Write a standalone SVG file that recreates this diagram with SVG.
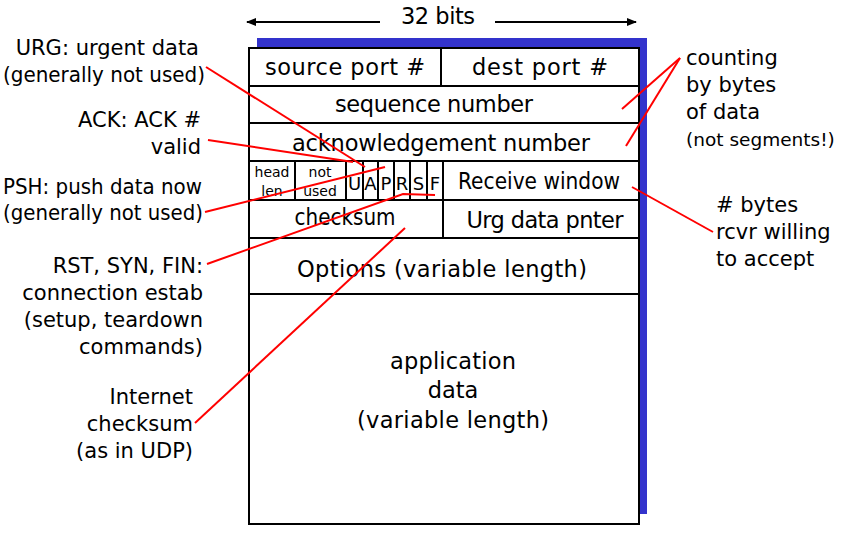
<svg xmlns="http://www.w3.org/2000/svg" width="848" height="533" viewBox="0 0 848 533">
<style>
text{font-family:"DejaVu Sans","Liberation Sans",sans-serif;fill:#000}
.b{font-size:22.5px;text-anchor:middle}
.l{font-size:21px;text-anchor:end}
.r{font-size:21px;text-anchor:start}
.s{font-size:14px;text-anchor:middle}
.f{font-size:18px;text-anchor:middle}
.cell{fill:none;stroke:#000;stroke-width:2}
.red{fill:none;stroke:#ff0000;stroke-width:2}
</style>
<defs>
<marker id="ah" markerWidth="10" markerHeight="8" refX="9" refY="4" orient="auto" markerUnits="userSpaceOnUse">
<path d="M0,0 L10,4 L0,8 Z" fill="#000"/>
</marker>
</defs>
<rect x="257" y="38" width="390" height="476" fill="#3333cc"/>
<g id="header">
<rect x="249" y="48" width="390" height="476" fill="#fff" stroke="#000" stroke-width="2"/>
</g>
<g id="ports">
<line class="cell" x1="249" y1="86" x2="639" y2="86"/>
<line class="cell" x1="441" y1="48" x2="441" y2="86"/>
<text class="b" x="345" y="75" textLength="160">source port #</text>
<text class="b" x="540" y="75" textLength="136">dest port #</text>
</g>
<g id="seq">
<line class="cell" x1="249" y1="123" x2="639" y2="123"/>
<text class="b" x="434" y="112" textLength="198">sequence number</text>
</g>
<g id="ack">
<line class="cell" x1="249" y1="161" x2="639" y2="161"/>
<text class="b" x="441" y="151" textLength="298">acknowledgement number</text>
</g>
<g id="flags">
<line class="cell" x1="249" y1="200" x2="639" y2="200"/>
<line class="cell" x1="295" y1="161" x2="295" y2="200"/>
<line class="cell" x1="346" y1="161" x2="346" y2="200"/>
<line class="cell" x1="363" y1="161" x2="363" y2="200"/>
<line class="cell" x1="378" y1="161" x2="378" y2="200"/>
<line class="cell" x1="394" y1="161" x2="394" y2="200"/>
<line class="cell" x1="410" y1="161" x2="410" y2="200"/>
<line class="cell" x1="427" y1="161" x2="427" y2="200"/>
<line class="cell" x1="443" y1="161" x2="443" y2="238"/>
<text class="s" x="272" y="177">head</text>
<text class="s" x="272" y="196">len</text>
<text class="s" x="320" y="177">not</text>
<text class="s" x="320" y="196">used</text>
<text class="f" x="354.5" y="190">U</text>
<text class="f" x="370.5" y="190">A</text>
<text class="f" x="386" y="190">P</text>
<text class="f" x="402" y="190">R</text>
<text class="f" x="418.5" y="190">S</text>
<text class="f" x="435" y="190">F</text>
<text class="b" x="539" y="189" textLength="162" lengthAdjust="spacingAndGlyphs">Receive window</text>
</g>
<g id="checksum">
<line class="cell" x1="249" y1="238" x2="639" y2="238"/>
<text class="b" x="345" y="225" textLength="101" lengthAdjust="spacingAndGlyphs">checksum</text>
<text class="b" x="545" y="228" textLength="157">Urg data pnter</text>
</g>
<g id="options">
<line class="cell" x1="249" y1="294" x2="639" y2="294"/>
<text class="b" x="442" y="277" textLength="290">Options (variable length)</text>
</g>
<g id="data">
<text class="b" x="453" y="369" textLength="126">application</text>
<text class="b" x="453" y="398">data</text>
<text class="b" x="453" y="428" textLength="192">(variable length)</text>
</g>
<g id="width">
<text class="b" x="438" y="24" textLength="74">32 bits</text>
</g>
<g id="labels">
<text class="l" x="199" y="55">URG: urgent data</text>
<text class="l" x="205" y="82" textLength="202" lengthAdjust="spacingAndGlyphs">(generally not used)</text>
<text class="l" x="201" y="127">ACK: ACK #</text>
<text class="l" x="201" y="154">valid</text>
<text class="l" x="202" y="194" textLength="199" lengthAdjust="spacingAndGlyphs">PSH: push data now</text>
<text class="l" x="203" y="220" textLength="200" lengthAdjust="spacingAndGlyphs">(generally not used)</text>
<text class="l" x="203" y="273">RST, SYN, FIN:</text>
<text class="l" x="203" y="300">connection estab</text>
<text class="l" x="203" y="327">(setup, teardown</text>
<text class="l" x="203" y="354">commands)</text>
<text class="l" x="193" y="404">Internet</text>
<text class="l" x="193" y="431">checksum</text>
<text class="l" x="193" y="458">(as in UDP)</text>
<text class="r" x="686" y="65">counting</text>
<text class="r" x="686" y="92">by bytes</text>
<text class="r" x="686" y="119">of data</text>
<text class="r" x="686" y="146" style="font-size:18.5px">(not segments!)</text>
<text class="r" x="716" y="212"># bytes</text>
<text class="r" x="716" y="239">rcvr willing</text>
<text class="r" x="716" y="266">to accept</text>
</g>
<g id="connectors">
<line x1="380" y1="22" x2="247" y2="22" stroke="#000" stroke-width="2" marker-end="url(#ah)"/>
<line x1="495" y1="22" x2="636" y2="22" stroke="#000" stroke-width="2" marker-end="url(#ah)"/>
<line class="red" x1="206" y1="67" x2="365" y2="167"/>
<line class="red" x1="208" y1="140" x2="353" y2="162"/>
<line class="red" x1="205" y1="212" x2="385" y2="167"/>
<polyline class="red" points="207,264 403,194 435,195"/>
<line class="red" x1="195" y1="423" x2="405" y2="228"/>
<line class="red" x1="680" y1="58" x2="622" y2="109"/>
<line class="red" x1="680" y1="58" x2="626" y2="146"/>
<line class="red" x1="632" y1="187" x2="713" y2="232"/>
</g>
</svg>
